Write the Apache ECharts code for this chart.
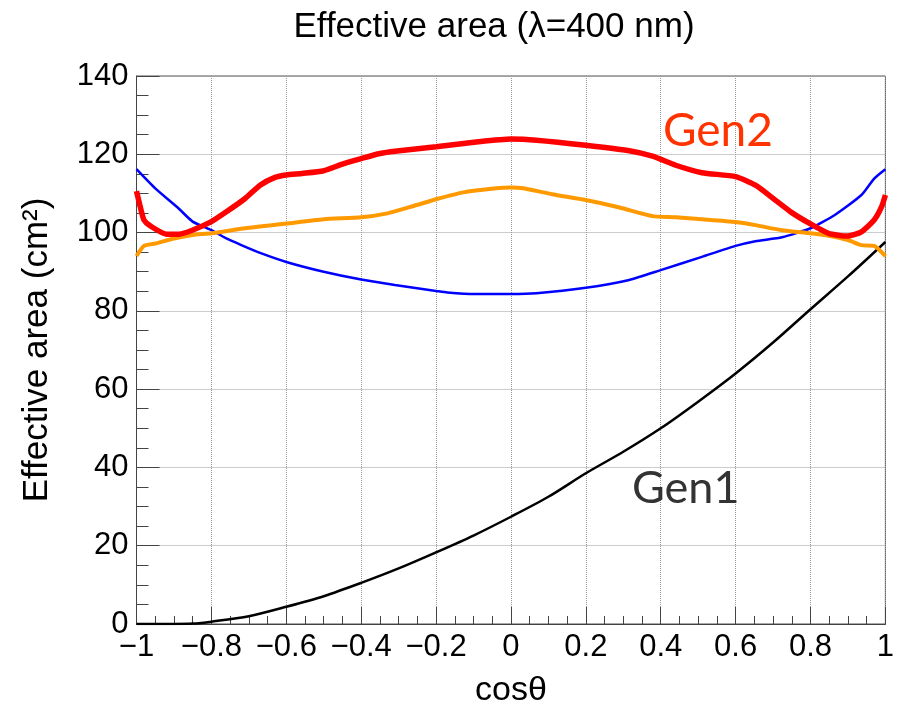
<!DOCTYPE html>
<html>
<head>
<meta charset="utf-8">
<script src="https://cdn.jsdelivr.net/npm/echarts@6/dist/echarts.min.js"></script>
<style>
html,body{margin:0;padding:0;background:#fff;}
#chart{width:897px;height:716px;}
</style>
</head>
<body>
<div id="chart"></div>
<script>
// ---- data ----
const xTicks = [-1, -0.8, -0.6, -0.4, -0.2, 0, 0.2, 0.4, 0.6, 0.8, 1];
const yTicks = [0, 20, 40, 60, 80, 100, 120, 140];

const gen1X = [-1, -0.9, -0.85, -0.8, -0.7, -0.6, -0.5, -0.4, -0.3, -0.2, -0.1, 0, 0.1, 0.2, 0.3, 0.4, 0.5, 0.6, 0.7, 0.8, 0.9, 1.0];
const gen1Y = [0, 0, 0.1, 0.6, 2.0, 4.4, 7.1, 10.5, 14.2, 18.3, 22.6, 27.4, 32.5, 38.5, 44.0, 50.0, 56.8, 64.0, 71.9, 80.4, 88.8, 97.6];

const redX = [-1, -0.99, -0.98, -0.963, -0.92, -0.886, -0.851, -0.8, -0.76, -0.71, -0.67, -0.63, -0.6, -0.558, -0.5, -0.45, -0.4, -0.35, -0.31, -0.2, -0.087, 0, 0.068, 0.2, 0.316, 0.378, 0.44, 0.51, 0.6, 0.653, 0.706, 0.75, 0.8, 0.848, 0.9, 0.936, 0.97, 0.99, 1.0];
const redY = [110.6, 106.6, 103.2, 101.7, 99.6, 99.6, 100.6, 102.8, 105.3, 108.7, 112.1, 114.1, 114.7, 115.1, 115.8, 117.5, 118.9, 120.2, 120.8, 121.9, 123.2, 123.9, 123.6, 122.3, 120.9, 119.5, 117.2, 115.3, 114.3, 112.1, 108.3, 105.1, 102.2, 99.8, 99.1, 100.2, 103.2, 106.6, 109.6];

const orangeX = [-1, -0.98, -0.95, -0.9, -0.85, -0.8, -0.71, -0.6, -0.5, -0.4, -0.33, -0.26, -0.2, -0.13, -0.04, 0, 0.033, 0.11, 0.2, 0.29, 0.378, 0.44, 0.51, 0.6, 0.653, 0.724, 0.8, 0.848, 0.9, 0.936, 0.97, 1.0];
const orangeY = [94.0, 96.6, 97.2, 98.5, 99.4, 99.8, 101.1, 102.3, 103.4, 103.9, 104.9, 106.8, 108.5, 110.2, 111.3, 111.5, 111.3, 109.8, 108.3, 106.4, 104.2, 103.9, 103.4, 102.7, 101.9, 100.6, 99.8, 99.2, 98.1, 96.8, 96.6, 94.0];

const blueX = [-1, -0.95, -0.89, -0.85, -0.8, -0.76, -0.72, -0.67, -0.6, -0.5, -0.4, -0.31, -0.2, -0.17, -0.096, 0, 0.068, 0.2, 0.316, 0.4, 0.51, 0.6, 0.653, 0.724, 0.8, 0.865, 0.936, 0.97, 1.0];
const blueY = [116.2, 111.3, 106.4, 102.8, 100.6, 98.5, 96.8, 94.8, 92.5, 90.0, 88.0, 86.6, 85.1, 84.7, 84.3, 84.3, 84.5, 85.9, 87.9, 90.4, 93.8, 96.6, 97.8, 98.8, 101.1, 104.5, 109.6, 113.8, 116.2];

const titleText = 'Effective area (\u03bb=400 nm)';
const xName = 'cos\u03b8';
const yName = 'Effective area (cm\u00b2)';
const labelGen1 = 'Gen1';
const labelGen2 = 'Gen2';

function pairs(xs, ys) { return xs.map((x, i) => [x, ys[i]]); }

const chart = echarts.init(document.getElementById('chart'));
const FONT = "'Liberation Sans', Arial, Helvetica, sans-serif";
const fmt = v => parseFloat(Number(v).toFixed(1)).toString().replace('-', '\u2212');

chart.setOption({
  animation: false,
  backgroundColor: '#ffffff',
  title: {
    text: titleText,
    left: 489, top: 5, textAlign: 'center',
    textStyle: { fontFamily: FONT, fontSize: 35, fontWeight: 'normal', color: '#000' }
  },
  grid: { left: 136.5, right: 7, top: 76, bottom: 92, show: true, borderColor: '#555', borderWidth: 1, backgroundColor: 'transparent' },
  xAxis: {
    type: 'value', min: xTicks[0], max: xTicks[xTicks.length - 1], interval: 0.2,
    name: xName, nameLocation: 'middle', nameGap: 50,
    nameTextStyle: { fontFamily: FONT, fontSize: 34, color: '#000' },
    axisLine: { show: true, onZero: false, lineStyle: { color: '#444', width: 1 } },
    axisTick: { show: true, inside: true, length: 17, lineStyle: { color: '#444' } },
    minorTick: { show: true, splitNumber: 4, length: 8, lineStyle: { color: '#444' } },
    axisLabel: { formatter: fmt, fontFamily: FONT, fontSize: 31, color: '#000', margin: 8 },
    splitLine: { show: true, lineStyle: { color: '#999', type: 'dotted', width: 1 } },
    minorSplitLine: { show: false }
  },
  yAxis: {
    type: 'value', min: yTicks[0], max: yTicks[yTicks.length - 1], interval: 20,
    name: yName, nameLocation: 'middle', nameGap: 82, nameRotate: 90,
    nameTextStyle: { fontFamily: FONT, fontSize: 35, color: '#000' },
    axisLine: { show: true, onZero: false, lineStyle: { color: '#444', width: 1 } },
    axisTick: { show: true, inside: true, length: 23, lineStyle: { color: '#444' } },
    minorTick: { show: true, splitNumber: 4, length: 12, lineStyle: { color: '#444' } },
    axisLabel: { fontFamily: FONT, fontSize: 31, color: '#000', margin: 8 },
    splitLine: { show: true, lineStyle: { color: '#999', type: 'dotted', width: 1 } }
  },
  series: [
    { name: 'Gen1', type: 'line', data: pairs(gen1X, gen1Y), showSymbol: false, smooth: 0.3,
      lineStyle: { color: '#000000', width: 2.5 }, z: 3 },
    { name: 'blue', type: 'line', data: pairs(blueX, blueY), showSymbol: false, smooth: 0.2,
      lineStyle: { color: '#0000ff', width: 2.5 }, z: 3 },
    { name: 'orange', type: 'line', data: pairs(orangeX, orangeY), showSymbol: false, smooth: 0.2,
      lineStyle: { color: '#ff9900', width: 4 }, z: 4 },
    { name: 'Gen2', type: 'line', data: pairs(redX, redY), showSymbol: false, smooth: 0.2,
      lineStyle: { color: '#ff0000', width: 5.5 }, z: 5 }
  ],
  graphic: [
    { type: 'text', left: 663, top: 108, z: 10,
      style: { text: labelGen2, fill: '#ff3300', fontFamily: "Lato, 'Open Sans', sans-serif", fontSize: 46 } },
    { type: 'text', left: 632, top: 466, z: 10,
      style: { text: labelGen1, fill: '#333333', fontFamily: "Lato, 'Open Sans', sans-serif", fontSize: 45 } }
  ]
});
</script>
</body>
</html>
